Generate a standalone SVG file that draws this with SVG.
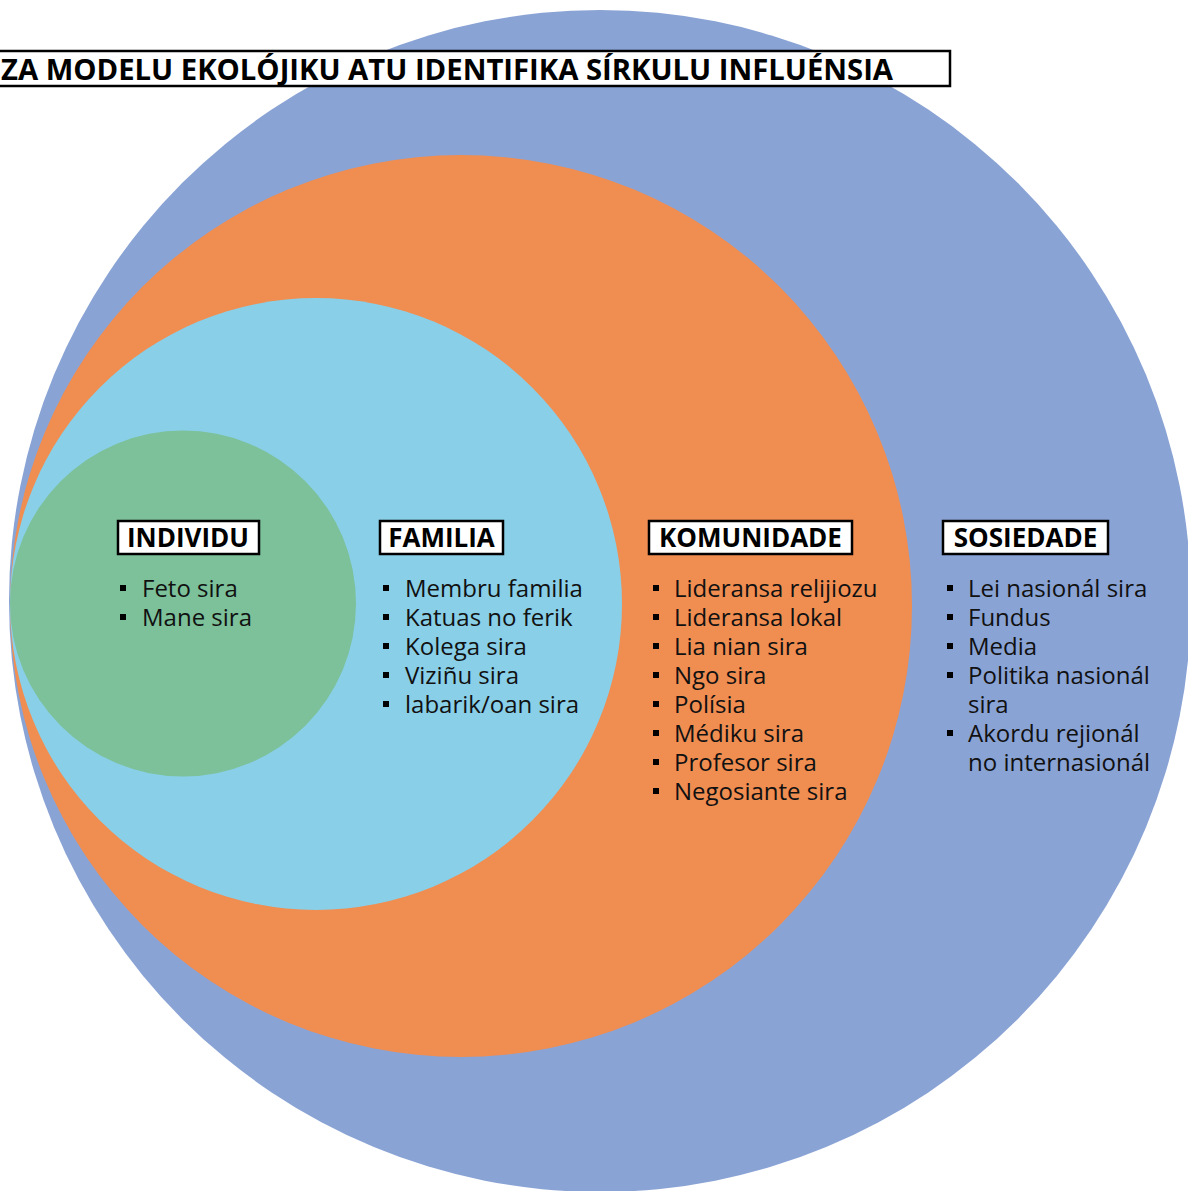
<svg xmlns="http://www.w3.org/2000/svg" width="1188" height="1191" viewBox="0 0 1188 1191">
<style>
.box{fill:#ffffff;stroke:#000000;stroke-width:2.5}
.hd{font-family:"Open Sans","Noto Sans",sans-serif;font-weight:bold;font-size:26px;fill:#000;text-anchor:middle}
.it{font-family:"Open Sans","Noto Sans",sans-serif;font-size:24px;fill:#111}
.title{font-family:"Open Sans","Noto Sans",sans-serif;font-weight:bold;font-size:29px;fill:#000}
.bl{fill:#000}
</style>
<rect width="1188" height="1191" fill="#ffffff"/>
<g id="circles">
<circle id="c-sosiedade" cx="600" cy="601" r="591" fill="#8AA3D5"/>
<circle id="c-komunidade" cx="461" cy="606" r="451" fill="#F08D51"/>
<circle id="c-familia" cx="316" cy="604" r="306" fill="#89CFE8"/>
<circle id="c-individu" cx="183" cy="603.5" r="173" fill="#7CC19A"/>
</g>
<g id="title">
<rect class="box" x="-3" y="51" width="953" height="35"/>
<text class="title" x="1" y="80" textLength="892" lengthAdjust="spacingAndGlyphs">ZA MODELU EKOLÓJIKU ATU IDENTIFIKA SÍRKULU INFLUÉNSIA</text>
</g>
<g id="individu">
<rect class="box" x="118" y="521" width="141" height="33"/>
<text class="hd" x="188" y="547">INDIVIDU</text>
<rect class="bl" x="120" y="585" width="6" height="6"/>
<rect class="bl" x="120" y="614" width="6" height="6"/>
<text class="it" x="142" y="597">Feto sira</text>
<text class="it" x="142" y="626">Mane sira</text>
</g>
<g id="familia">
<rect class="box" x="380" y="521" width="123" height="33"/>
<text class="hd" x="441.5" y="547">FAMILIA</text>
<rect class="bl" x="383" y="585" width="6" height="6"/>
<rect class="bl" x="383" y="614" width="6" height="6"/>
<rect class="bl" x="383" y="643" width="6" height="6"/>
<rect class="bl" x="383" y="672" width="6" height="6"/>
<rect class="bl" x="383" y="701" width="6" height="6"/>
<text class="it" x="405" y="597">Membru familia</text>
<text class="it" x="405" y="626">Katuas no ferik</text>
<text class="it" x="405" y="655">Kolega sira</text>
<text class="it" x="405" y="684">Viziñu sira</text>
<text class="it" x="405" y="713">labarik/oan sira</text>
</g>
<g id="komunidade">
<rect class="box" x="649" y="521" width="203" height="33"/>
<text class="hd" x="750.5" y="547">KOMUNIDADE</text>
<rect class="bl" x="653" y="585" width="6" height="6"/>
<rect class="bl" x="653" y="614" width="6" height="6"/>
<rect class="bl" x="653" y="643" width="6" height="6"/>
<rect class="bl" x="653" y="672" width="6" height="6"/>
<rect class="bl" x="653" y="701" width="6" height="6"/>
<rect class="bl" x="653" y="730" width="6" height="6"/>
<rect class="bl" x="653" y="759" width="6" height="6"/>
<rect class="bl" x="653" y="788" width="6" height="6"/>
<text class="it" x="674" y="597">Lideransa relijiozu</text>
<text class="it" x="674" y="626">Lideransa lokal</text>
<text class="it" x="674" y="655">Lia nian sira</text>
<text class="it" x="674" y="684">Ngo sira</text>
<text class="it" x="674" y="713">Polísia</text>
<text class="it" x="674" y="742">Médiku sira</text>
<text class="it" x="674" y="771">Profesor sira</text>
<text class="it" x="674" y="800">Negosiante sira</text>
</g>
<g id="sosiedade">
<rect class="box" x="943" y="521" width="165" height="33"/>
<text class="hd" x="1025.5" y="547">SOSIEDADE</text>
<rect class="bl" x="947" y="585" width="6" height="6"/>
<rect class="bl" x="947" y="614" width="6" height="6"/>
<rect class="bl" x="947" y="643" width="6" height="6"/>
<rect class="bl" x="947" y="672" width="6" height="6"/>
<rect class="bl" x="947" y="730" width="6" height="6"/>
<text class="it" x="968" y="597">Lei nasionál sira</text>
<text class="it" x="968" y="626">Fundus</text>
<text class="it" x="968" y="655">Media</text>
<text class="it" x="968" y="684">Politika nasionál</text>
<text class="it" x="968" y="713">sira</text>
<text class="it" x="968" y="742">Akordu rejionál</text>
<text class="it" x="968" y="771">no internasionál</text>
</g>
<g id="connectors"/>
</svg>
